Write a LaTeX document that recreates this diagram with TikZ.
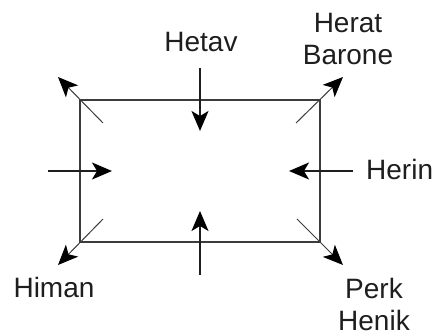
\documentclass[tikz,border=0pt]{standalone}
\usepackage{fontspec}
\setmainfont{Liberation Sans}
\usetikzlibrary{arrows.meta}
\definecolor{ink}{RGB}{30,30,30}
\definecolor{edge}{RGB}{60,60,60}
\tikzset{
  push/.style={-{Stealth[length=20pt,width=17pt,inset=5pt,color=black]},line width=1.5pt,draw=ink},
  spread/.style={-{Stealth[length=20pt,width=17pt,inset=5pt,color=black]},line width=1pt,draw=edge},
  tag/.style={inner sep=0pt,text=ink,font=\fontsize{28}{32}\selectfont,align=center}
}
\begin{document}
\begin{tikzpicture}[x=1pt,y=-1pt]
      \useasboundingbox (0,0) rectangle (432,334);
      \draw
        (201,52) node[tag,anchor=base] (hetav){Hetav}
        (348,39.5) node[tag] (herat){Herat\\Barone}
        (366,180) node[tag,anchor=base west] (herin){Herin}
        (54,298) node[tag,anchor=base] (himan){Himan}
        (374,304) node[tag] (perk){Perk\\Henik};
      \coordinate (tl) at (80,100);
      \coordinate (tr) at (320,100);
      \coordinate (br) at (320,242);
      \coordinate (bl) at (80,242);
      \draw[line width=2pt,draw=edge] (tl) -- (tr) -- (br) -- (bl) -- cycle;
      % corner arrows
      \coordinate (tl-in) at (103,123);
      \coordinate (tl-out) at (58,77);
      \coordinate (tr-in) at (296,123);
      \coordinate (tr-out) at (343,77);
      \coordinate (bl-in) at (103,219);
      \coordinate (bl-out) at (58,265);
      \coordinate (br-in) at (297,219);
      \coordinate (br-out) at (343,265);
      \begin{scope}[spread]
        \draw (tl-in) to (tl-out);
        \draw (tr-in) to (tr-out);
        \draw (bl-in) to (bl-out);
        \draw (br-in) to (br-out);
      \end{scope}
      % side arrows
      \coordinate (top-a) at (200,68);
      \coordinate (top-b) at (200,131);
      \coordinate (bot-a) at (200,275);
      \coordinate (bot-b) at (200,211);
      \coordinate (lft-a) at (48,171);
      \coordinate (lft-b) at (112,171);
      \coordinate (rgt-a) at (353,171);
      \coordinate (rgt-b) at (289,171);
      \begin{scope}[push]
        \draw (top-a) to (top-b);
        \draw (bot-a) to (bot-b);
        \draw (lft-a) to (lft-b);
        \draw (rgt-a) to (rgt-b);
      \end{scope}
    \end{tikzpicture}
\end{document}
